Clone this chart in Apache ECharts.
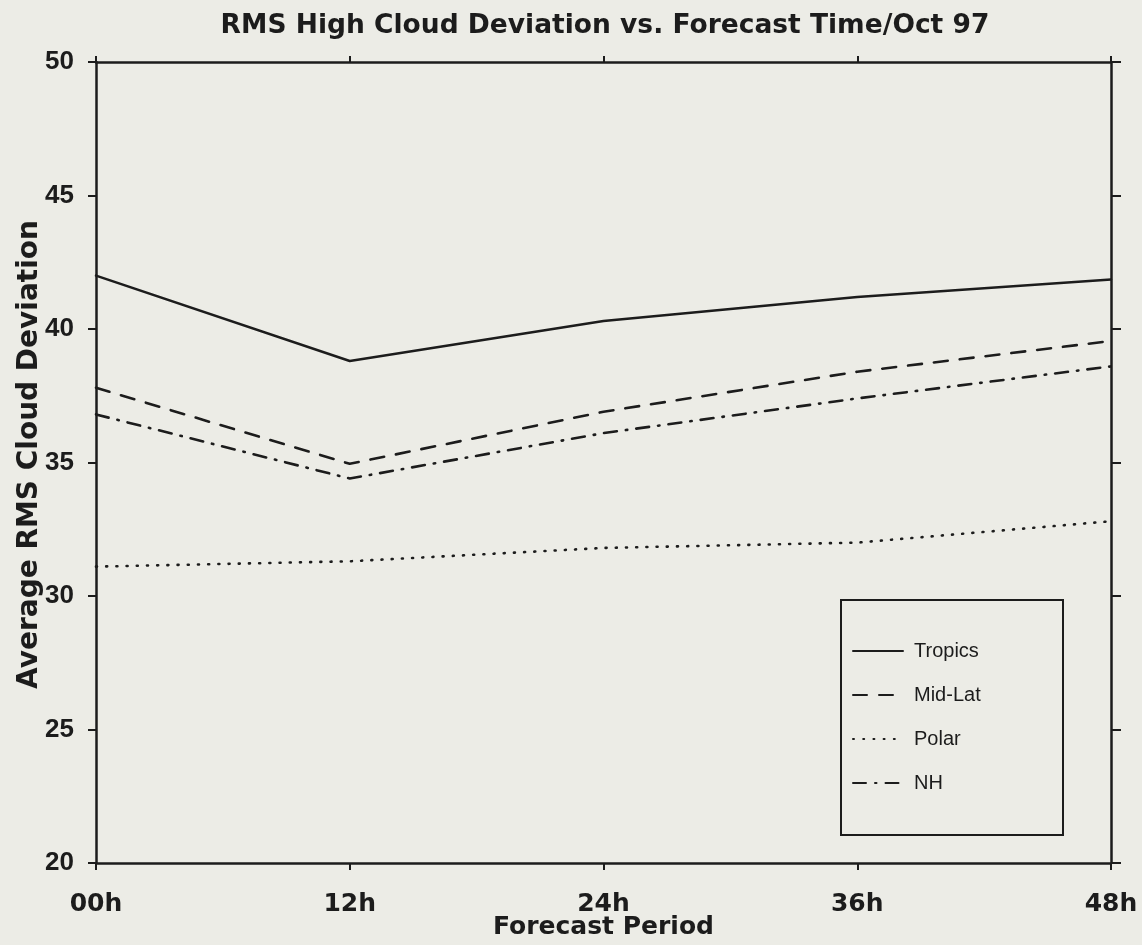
<!DOCTYPE html>
<html>
<head>
<meta charset="utf-8">
<style>
  html, body { margin: 0; padding: 0; background: #ecece6; }
  #chart { width: 1142px; height: 945px; }
</style>
<script src="https://cdn.jsdelivr.net/npm/echarts@6/dist/echarts.min.js"></script>
</head>
<body>
<div id="chart"></div>
<script>
// Forecast periods and RMS high cloud deviation per region (Oct 97)
const periods = ['00h', '12h', '24h', '36h', '48h'];
const tropics = [42.0, 38.8, 40.3, 41.2, 41.85];
const midLat  = [37.8, 34.95, 36.9, 38.4, 39.55];
const polar   = [31.1, 31.3, 31.8, 32.0, 32.8];
const nh      = [36.8, 34.4, 36.1, 37.4, 38.6];

const ink = '#1c1c1c';
const wide = "'DejaVu Sans', 'Liberation Sans', sans-serif";
const helv = "'Liberation Sans', Arial, Helvetica, sans-serif";

const chart = echarts.init(document.getElementById('chart'), null, { renderer: 'canvas' });

function lineSeries(name, data, type, width) {
  return {
    name: name,
    type: 'line',
    data: data,
    xAxisIndex: 0,
    yAxisIndex: 0,
    symbol: 'none',
    silent: true,
    animation: false,
    itemStyle: { color: ink },
    lineStyle: { color: ink, width: width, type: type, cap: 'round' }
  };
}

chart.setOption({
  backgroundColor: '#ecece6',
  animation: false,
  title: {
    text: 'RMS High Cloud Deviation vs. Forecast Time/Oct 97',
    left: 600,
    textAlign: 'center',
    top: 8,
    textStyle: { fontFamily: wide, fontSize: 26.5, fontWeight: 'bold', color: ink }
  },
  grid: { left: 96, right: 31, top: 62, bottom: 82, containLabel: false, outerBoundsMode: 'none' },
  legend: {
    orient: 'vertical',
    left: 847,
    top: 636,
    itemWidth: 50,
    itemHeight: 24,
    itemGap: 24,
    selectedMode: false,
    itemStyle: { opacity: 0 },
    textStyle: { fontFamily: helv, fontSize: 20, color: ink, padding: [0, 0, 0, 6] },
    data: ['Tropics', 'Mid-Lat', 'Polar', 'NH']
  },
  graphic: [{
    type: 'rect',
    shape: { x: 841, y: 600, width: 222, height: 235 },
    style: { fill: 'none', stroke: ink, lineWidth: 2 },
    silent: true
  }],
  xAxis: [{
    type: 'category',
    data: periods,
    boundaryGap: false,
    position: 'bottom',
    name: 'Forecast Period',
    nameLocation: 'middle',
    nameMoveOverlap: false,
    nameGap: 52,
    nameTextStyle: { fontFamily: wide, fontSize: 25, fontWeight: 'bold', color: ink },
    axisLine: { lineStyle: { color: ink, width: 2.5 } },
    axisTick: { show: true, length: 7, lineStyle: { color: ink, width: 2 } },
    axisLabel: { fontFamily: wide, fontSize: 25, fontWeight: 'bold', color: ink, margin: 29 },
    splitLine: { show: false }
  }, {
    type: 'category',
    data: periods,
    boundaryGap: false,
    position: 'top',
    axisLine: { lineStyle: { color: ink, width: 2.5 } },
    axisTick: { show: true, length: 6, lineStyle: { color: ink, width: 2 } },
    axisLabel: { show: false },
    splitLine: { show: false }
  }],
  yAxis: [{
    type: 'value',
    min: 20,
    max: 50,
    interval: 5,
    position: 'left',
    name: 'Average RMS Cloud Deviation',
    nameLocation: 'middle',
    nameMoveOverlap: false,
    nameGap: 52,
    nameTextStyle: { fontFamily: wide, fontSize: 28, fontWeight: 'bold', color: ink, padding: [0, 0, 0, 16] },
    axisLine: { show: true, lineStyle: { color: ink, width: 2.5 } },
    axisTick: { show: true, length: 8, lineStyle: { color: ink, width: 2 } },
    axisLabel: { fontFamily: helv, fontSize: 26, fontWeight: 'bold', color: ink, margin: 22 },
    splitLine: { show: false }
  }, {
    type: 'value',
    min: 20,
    max: 50,
    interval: 5,
    position: 'right',
    axisLine: { show: true, lineStyle: { color: ink, width: 2.5 } },
    axisTick: { show: true, length: 10, lineStyle: { color: ink, width: 2 } },
    axisLabel: { show: false },
    splitLine: { show: false }
  }],
  series: [
    lineSeries('Tropics', tropics, 'solid', 2.5),
    lineSeries('Mid-Lat', midLat, [14, 12], 2.6),
    lineSeries('Polar', polar, [1, 9.2], 2.6),
    lineSeries('NH', nh, [13, 9, 1.5, 9], 2.6)
  ]
});
</script>
</body>
</html>
